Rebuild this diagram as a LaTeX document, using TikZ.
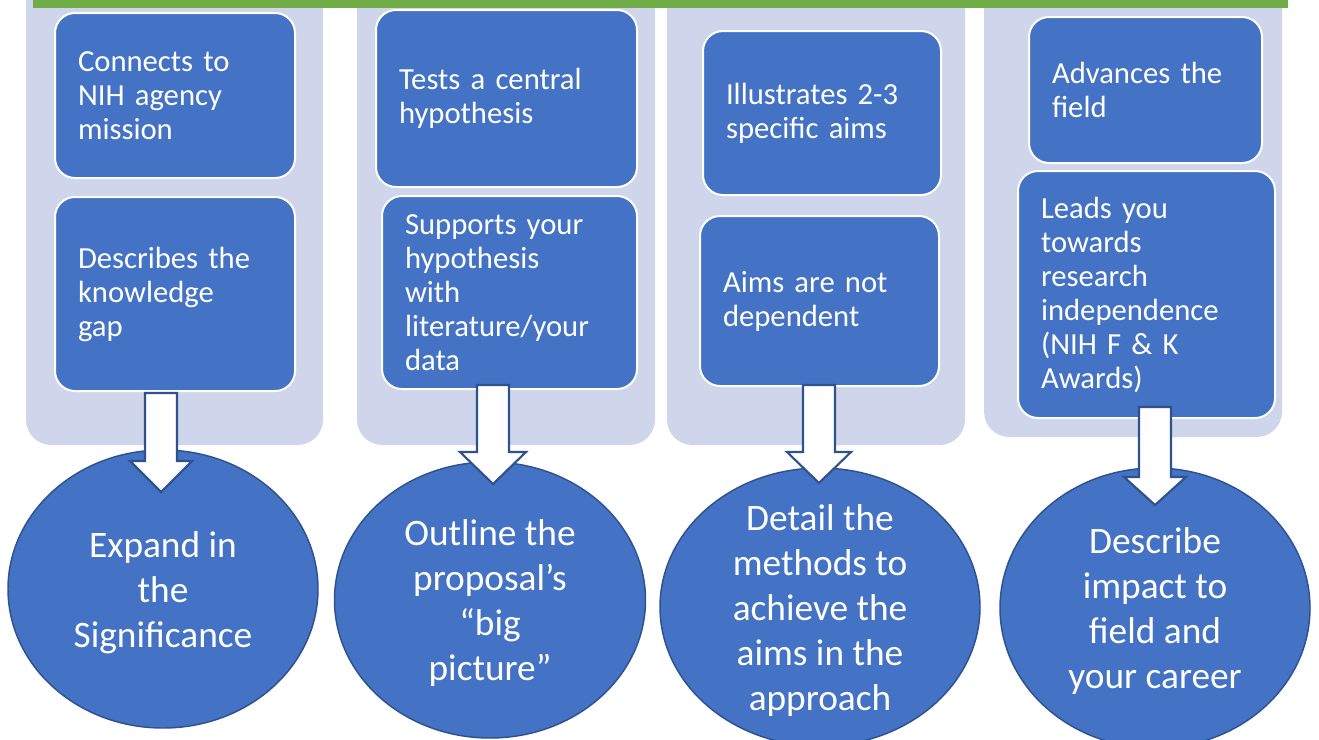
\documentclass[tikz,border=0pt]{standalone}
\usepackage{fontspec}
\setmainfont{Carlito}
\usetikzlibrary{shapes.geometric}
\definecolor{boxblue}{HTML}{4472C4}
\definecolor{panelgray}{HTML}{CFD5EA}
\definecolor{topgreen}{HTML}{70AD47}
\definecolor{edgeblue}{HTML}{2F528F}
\newcommand\mkbox[6]{%
  \pgfmathsetmacro\bw{(#4-#2)*0.75}%
  \pgfmathsetmacro\bh{(#5-#3)*0.75}%
  \pgfmathsetmacro\btw{(#4-#2-46)*0.75}%
  \node[box, minimum width=\bw pt, minimum height=\bh pt, text width=\btw pt] (#1) at ({(#2+#4)/2},{(#3+#5)/2}) {#6};}
\newcommand\mkbub[6]{%
  \pgfmathsetmacro\bw{#4*0.75}%
  \pgfmathsetmacro\bh{#5*0.75}%
  \node[bub, minimum width=\bw pt, minimum height=\bh pt] (#1) at (#2,#3) {};
  \node[bubtext] (#1t) at (#1.center) {#6};}
\begin{document}
\begin{tikzpicture}[x=0.75pt,y=-0.75pt,
  panel/.style={fill=panelgray, rounded corners=19pt},
  box/.style={draw=white, line width=1.5pt, fill=boxblue, rounded corners=15pt,
    text=white, align=left, inner xsep=17pt, inner ysep=0pt,
    font=\fontsize{23}{25.5}\selectfont},
  bub/.style={ellipse, draw=edgeblue, line width=1.1pt, fill=boxblue, inner sep=0pt},
  bubtext/.style={text=white, align=center, inner sep=0pt, yshift=-2.5pt,
    font=\fontsize{28}{33.75}\selectfont},
  blockarrow/.style={draw=edgeblue, line width=1.6pt, fill=white, line join=miter}]
\useasboundingbox (0,0) rectangle (1319,739);
\clip (0,0) rectangle (1319,739);
% panels
\fill[panel] (26,-40) rectangle (323,445);
\fill[panel] (357,-40) rectangle (655,445);
\fill[panel] (667,-40) rectangle (965,445);
\fill[panel] (984,-40) rectangle (1282,437);
% green bar
\fill[topgreen] (33,-5) rectangle (1288,8);
% boxes
\mkbox{c1a}{55}{13}{295}{178}{Connects to\\NIH agency\\mission}
\mkbox{c1b}{55}{197}{295}{391}{Describes the\\knowledge\\gap}
\mkbox{c2a}{376}{10}{637}{187}{Tests a central\\hypothesis}
\mkbox{c2b}{382}{196}{637}{389}{Supports your\\hypothesis\\with\\literature/your\\data}
\mkbox{c3a}{703}{31}{941}{195}{Illustrates 2-3\\specific aims}
\mkbox{c3b}{700}{216}{939}{386}{Aims are not\\dependent}
\mkbox{c4a}{1029}{17}{1262}{163}{Advances the\\field}
\mkbox{c4b}{1018}{171}{1275}{418}{Leads you\\towards\\research\\independence\\(NIH F \& K\\Awards)}
% bubbles
\mkbub{e1}{163}{589}{310}{278}{Expand in\\the\\Significance}
\mkbub{e2}{490}{600}{311}{276}{Outline the\\proposal’s\\“big\\picture”}
\mkbub{e3}{820}{607}{320}{278}{Detail the\\methods to\\achieve the\\aims in the\\approach}
\mkbub{e4}{1155}{608}{310}{280}{Describe\\impact to\\field and\\your career}
% block arrows
\draw[blockarrow] (145,393) -- (177,393) -- (177,461) -- (192,461) -- (161,492) -- (130,461) -- (145,461) -- cycle;
\draw[blockarrow] (477,385) -- (509,385) -- (509,452) -- (526,452) -- (493,484) -- (460,452) -- (477,452) -- cycle;
\draw[blockarrow] (803,385) -- (835,385) -- (835,452) -- (851,452) -- (819,483) -- (787,452) -- (803,452) -- cycle;
\draw[blockarrow] (1139,407) -- (1171,407) -- (1171,477) -- (1186,477) -- (1155,505) -- (1124,477) -- (1139,477) -- cycle;
\end{tikzpicture}
\end{document}
